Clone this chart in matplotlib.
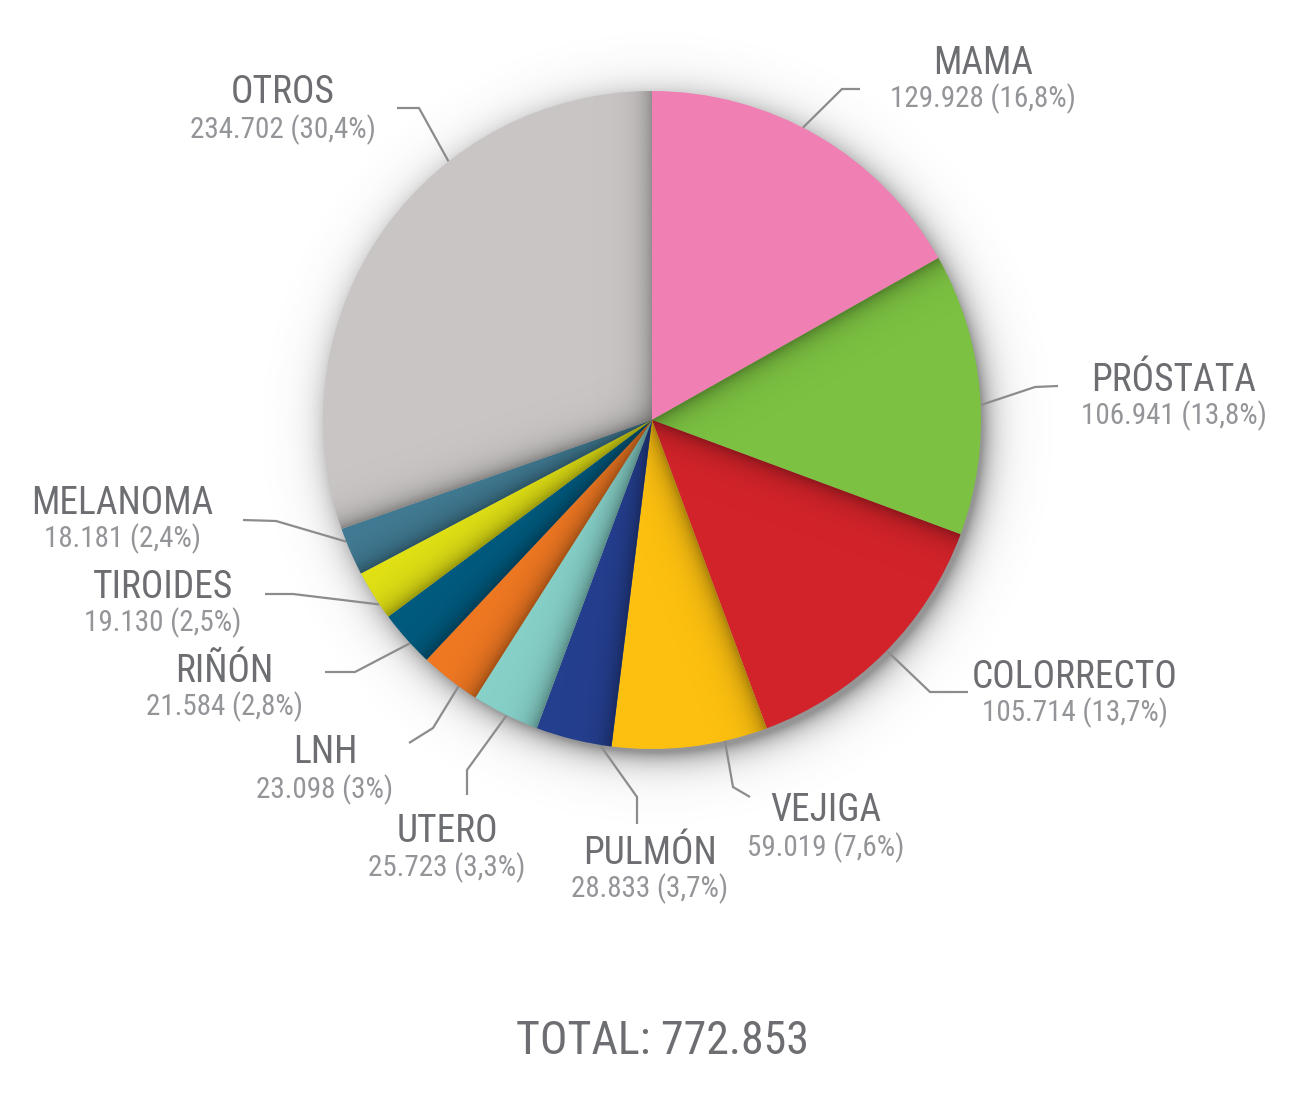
import numpy as np
import matplotlib
matplotlib.use("Agg")
import matplotlib.pyplot as plt
from matplotlib import font_manager
from matplotlib.colors import to_rgb

# data
labels = ["MAMA", "PRÓSTATA", "COLORRECTO", "VEJIGA", "PULMÓN", "UTERO",
          "LNH", "RIÑÓN", "TIROIDES", "MELANOMA", "OTROS"]
cases = [129928, 106941, 105714, 59019, 28833, 25723,
         23098, 21584, 19130, 18181, 234702]
colors = ["#f07fb3", "#7cc142", "#d2232a", "#fdc010", "#253f8f", "#86d0c8",
          "#f07822", "#005b7f", "#e1e115", "#417b93", "#c8c5c4"]

# layout (pixel coords, y from top)
W, H = 1300, 1100
CX, CY, R = 652, 420, 329
# label centre x, name baseline, value baseline
label_x = [983, 1174, 1075, 826, 650, 447, 325, 224, 163, 122, 283]
name_y = [74, 391, 688, 821, 864, 842, 763, 682, 598, 514, 103]
value_y = [107, 424, 721, 856, 897, 876, 798, 715, 631, 547, 138]
# leader: angle on the rim (deg), elbow point, end point
lead_ang = [62.7, 2.6, -44.5, -77.2, -99.1, -116.2, -126.0, -137.3, -145.9, -158.3, 128.2]
lead_elbow = [(842, 89), (1035, 387), (930, 692), (733, 787), (637, 797), (467, 770),
              (433, 728), (355, 672), (293, 594), (276, 521), (419, 108)]
lead_end = [(860, 89), (1058, 386), (968, 692), (750, 797), (637, 824), (467, 795),
            (409, 743), (325, 672), (265, 594), (243, 520), (397, 108)]

NAME_C = "#6d6e71"
VALUE_C = "#939598"
LINE_C = "#8c8c8c"

available = {f.name for f in font_manager.fontManager.ttflist}
FONT = next(f for f in ["Liberation Sans Narrow", "Roboto Condensed", "Roboto", "DejaVu Sans"]
            if f in available or f == "DejaVu Sans")


def fy(y):
    return H - y


def fmt_int(v):
    return f"{v:,}".replace(",", ".")


def fmt_pct(p):
    s = f"{p:.1f}"
    if s.endswith(".0"):
        s = s[:-2]
    return s.replace(".", ",")


fig = plt.figure(figsize=(13, 11), dpi=100)
ax = fig.add_axes([0, 0, 1, 1])

cx, cy = CX, fy(CY)

# soft drop shadow round the pie
pad = 90
n = 500
xs = np.linspace(cx - R - pad, cx + R + pad, n)
ys = np.linspace(cy - R - pad, cy + R + pad, n)
gx, gy = np.meshgrid(xs, ys)
rr = np.hypot(gx - (cx + 6), gy - (cy - 8))
alpha = 0.62 * np.exp(-np.clip(rr - (R - 4), 0, None) / 14.0)
sh = np.zeros((n, n, 4))
sh[..., :3] = 0.33
sh[..., 3] = alpha
ax.imshow(sh, extent=(xs[0], xs[-1], ys[0], ys[-1]), origin="lower", zorder=1,
          interpolation="bilinear")

wedges, _ = ax.pie(cases, colors=colors, startangle=90, counterclock=False,
                   center=(cx, cy), radius=R, wedgeprops=dict(linewidth=0))
for w in wedges:
    w.set_zorder(2)

# inner shading along the edge a wedge shares with the one before it
m = 700
xs = np.linspace(cx - R, cx + R, m)
ys = np.linspace(cy - R, cy + R, m)
gx, gy = np.meshgrid(xs, ys)


def edge_shade(wedge, ang, col, amax=0.6, width=11.0):
    ux, uy = np.cos(np.radians(ang)), np.sin(np.radians(ang))
    d = np.abs((gx - cx) * uy - (gy - cy) * ux)
    img = np.zeros((m, m, 4))
    img[..., :3] = np.array(to_rgb(col)) * 0.45
    img[..., 3] = amax * np.exp(-d / width)
    im = ax.imshow(img, extent=(xs[0], xs[-1], ys[0], ys[-1]), origin="lower",
                   zorder=3, interpolation="bilinear")
    im.set_clip_path(wedge)


for i, w in enumerate(wedges):
    if i > 0:
        edge_shade(w, w.theta2, colors[i])
edge_shade(wedges[-1], wedges[-1].theta1, colors[-1], amax=0.5, width=12.0)

total = sum(cases)
for i, lab in enumerate(labels):
    a = np.radians(lead_ang[i])
    px, py = cx + R * np.cos(a), cy + R * np.sin(a)
    ex, ey = lead_elbow[i]
    tx, ty = lead_end[i]
    ax.plot([px, ex, tx], [py, fy(ey), fy(ty)], color=LINE_C, lw=1.6, zorder=1.5,
            solid_capstyle="butt", solid_joinstyle="miter")
    ax.text(label_x[i], fy(name_y[i]), lab, ha="center", va="baseline",
            fontsize=27, color=NAME_C, family=[FONT, "DejaVu Sans"])
    pct = 100.0 * cases[i] / total
    ax.text(label_x[i], fy(value_y[i]), f"{fmt_int(cases[i])} ({fmt_pct(pct)}%)",
            ha="center", va="baseline", fontsize=21, color=VALUE_C,
            family=[FONT, "DejaVu Sans"])

ax.text(662, fy(1054), f"TOTAL: {fmt_int(total)}", ha="center", va="baseline",
        fontsize=33, color=NAME_C, family=[FONT, "DejaVu Sans"])

ax.set_xlim(0, W)
ax.set_ylim(0, H)
ax.set_aspect("equal")
ax.axis("off")
fig.savefig("out.png", dpi=100, facecolor="white")
